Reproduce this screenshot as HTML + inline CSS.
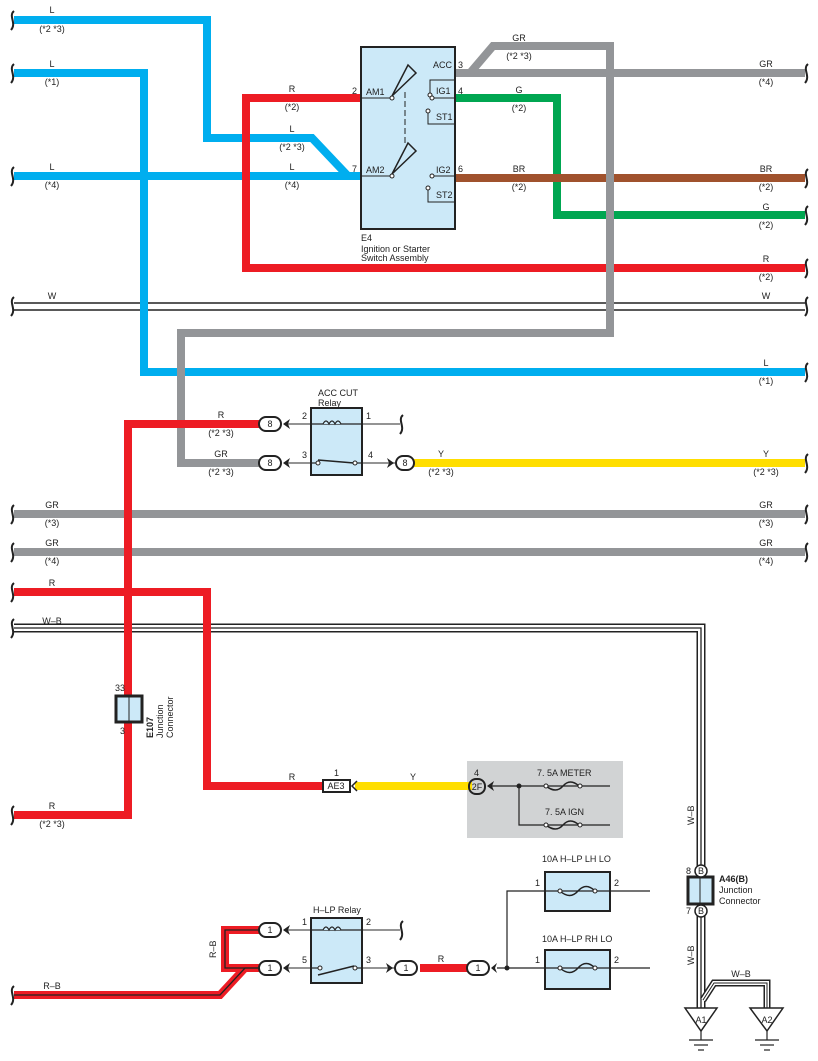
<!DOCTYPE html>
<html><head><meta charset="utf-8"><style>
html,body{margin:0;padding:0;background:#fff;}
svg{display:block;font-family:"Liberation Sans",sans-serif;}
text{font-size:9px;fill:#222;}
</style></head><body>
<svg width="818" height="1061" viewBox="0 0 818 1061" xmlns="http://www.w3.org/2000/svg">
<defs>
<path id="sq" d="M2,-9 C-4,-4 5,3 -1,10" fill="none" stroke="#222" stroke-width="2"/>
</defs>
<g fill="none" stroke-linejoin="miter">
<!-- W double line -->
<line x1="14" y1="303" x2="805" y2="303" stroke="#222" stroke-width="1.5"/>
<line x1="14" y1="310" x2="805" y2="310" stroke="#222" stroke-width="1.5"/>
<!-- blue -->
<polyline points="14,20 207,20 207,138 312,138 348,176" stroke="#00aeef" stroke-width="8"/>
<polyline points="14,73 144,73 144,372 805,372" stroke="#00aeef" stroke-width="8"/>
<line x1="14" y1="176" x2="361" y2="176" stroke="#00aeef" stroke-width="8"/>
<!-- red top -->
<polyline points="361,98 246,98 246,268 805,268" stroke="#ed1c24" stroke-width="8"/>
<!-- green -->
<polyline points="455,98 557,98 557,215 805,215" stroke="#00a651" stroke-width="8"/>
<!-- brown -->
<line x1="455" y1="178" x2="805" y2="178" stroke="#a0522d" stroke-width="8"/>
<!-- gray -->
<line x1="455" y1="73" x2="805" y2="73" stroke="#939598" stroke-width="8"/>
<polyline points="470,73 493,46 610,46 610,333 181,333 181,463 263,463" stroke="#939598" stroke-width="8"/>
<!-- gray full lines -->
<line x1="14" y1="514" x2="805" y2="514" stroke="#939598" stroke-width="8"/>
<line x1="14" y1="552" x2="805" y2="552" stroke="#939598" stroke-width="8"/>
<!-- W-B triple -->
<polyline points="14,628 701,628 701,866" stroke="#222" stroke-width="9"/>
<polyline points="14,628 701,628 701,866" stroke="#fff" stroke-width="6"/>
<polyline points="14,628 701,628 701,866" stroke="#222" stroke-width="1.3"/>
<polyline points="701,916 701,1010" stroke="#222" stroke-width="9"/>
<polyline points="701,916 701,1010" stroke="#fff" stroke-width="6"/>
<polyline points="701,916 701,1010" stroke="#222" stroke-width="1.3"/>
<polyline points="703,1000 714,983 767,983 767,1010" stroke="#222" stroke-width="7"/>
<polyline points="703,1000 714,983 767,983 767,1010" stroke="#fff" stroke-width="4"/>
<polyline points="703,1000 714,983 767,983 767,1010" stroke="#222" stroke-width="1"/>
<!-- ACC CUT area reds -->
<polyline points="263,424 128,424 128,815 14,815" stroke="#ed1c24" stroke-width="8"/>
<line x1="413" y1="463" x2="805" y2="463" stroke="#ffde00" stroke-width="8"/>
<polyline points="14,592 207,592 207,786 325,786" stroke="#ed1c24" stroke-width="8"/>
<line x1="355" y1="786" x2="472" y2="786" stroke="#ffde00" stroke-width="8"/>
<!-- R-B -->
<polyline points="14,995 220,995 245,968 225,968 225,930 262,930" stroke="#ed1c24" stroke-width="8"/>
<polyline points="262,968 225,968" stroke="#ed1c24" stroke-width="8"/>
<polyline points="14,995 220,995 245,968 262,968" stroke="#222" stroke-width="1.3"/>
<polyline points="262,968 225,968 225,930 262,930" stroke="#222" stroke-width="1.3"/>
<line x1="420" y1="968" x2="470" y2="968" stroke="#ed1c24" stroke-width="8"/>
</g>
<!-- squiggles -->
<g>
<use href="#sq" x="12" y="20"/><use href="#sq" x="12" y="73"/><use href="#sq" x="12" y="176"/>
<use href="#sq" x="12" y="306"/><use href="#sq" x="12" y="514"/><use href="#sq" x="12" y="552"/>
<use href="#sq" x="12" y="592"/><use href="#sq" x="12" y="628"/><use href="#sq" x="12" y="815"/>
<use href="#sq" x="12" y="995"/>
<use href="#sq" x="806" y="73"/><use href="#sq" x="806" y="178"/><use href="#sq" x="806" y="215"/>
<use href="#sq" x="806" y="268"/><use href="#sq" x="806" y="306"/><use href="#sq" x="806" y="372"/>
<use href="#sq" x="806" y="463"/><use href="#sq" x="806" y="514"/><use href="#sq" x="806" y="552"/>
<use href="#sq" x="401" y="424"/><use href="#sq" x="401" y="930"/>
</g>
<!-- E4 box -->
<rect x="361" y="47" width="94" height="182" fill="#cce9f8" stroke="#222" stroke-width="2"/>
<g stroke="#222" stroke-width="1" fill="none">
<line x1="361" y1="98" x2="390" y2="98"/><line x1="361" y1="176" x2="390" y2="176"/>
<polygon points="392,96 408,65 416,73" fill="#cce9f8" stroke-width="1.5"/>
<polygon points="392,174 408,143 416,151" fill="#cce9f8" stroke-width="1.5"/>
<line x1="405" y1="92" x2="405" y2="146" stroke-dasharray="6,3"/>
<polyline points="430,93 430,80 455,80"/><line x1="432" y1="98" x2="455" y2="98"/>
<polyline points="428,113 428,124 455,124"/>
<line x1="432" y1="176" x2="455" y2="176"/>
<polyline points="428,190 428,202 455,202"/>
</g>
<g fill="#fff" stroke="#222" stroke-width="1">
<circle cx="392" cy="98" r="2"/><circle cx="392" cy="176" r="2"/>
<circle cx="430" cy="95" r="2"/><circle cx="432" cy="98" r="2"/><circle cx="428" cy="111" r="2"/>
<circle cx="432" cy="176" r="2"/><circle cx="428" cy="188" r="2"/>
</g>
<text x="366" y="95">AM1</text><text x="366" y="173">AM2</text>
<text x="433" y="68">ACC</text><text x="436" y="94">IG1</text><text x="436" y="120">ST1</text>
<text x="436" y="173">IG2</text><text x="436" y="198">ST2</text>
<text x="352" y="94">2</text><text x="352" y="172">7</text>
<text x="458" y="68">3</text><text x="458" y="94">4</text><text x="458" y="172">6</text>
<text x="361" y="241">E4</text><text x="361" y="252">Ignition or Starter</text><text x="361" y="261">Switch Assembly</text>
<!-- wire labels -->
<g text-anchor="middle">
<text x="52" y="13">L</text><text x="52" y="32">(*2 *3)</text>
<text x="52" y="67">L</text><text x="52" y="85">(*1)</text>
<text x="52" y="170">L</text><text x="52" y="188">(*4)</text>
<text x="292" y="92">R</text><text x="292" y="110">(*2)</text>
<text x="292" y="132">L</text><text x="292" y="150">(*2 *3)</text>
<text x="292" y="170">L</text><text x="292" y="188">(*4)</text>
<text x="519" y="41">GR</text><text x="519" y="59">(*2 *3)</text>
<text x="519" y="93">G</text><text x="519" y="111">(*2)</text>
<text x="519" y="172">BR</text><text x="519" y="190">(*2)</text>
<text x="766" y="67">GR</text><text x="766" y="85">(*4)</text>
<text x="766" y="172">BR</text><text x="766" y="190">(*2)</text>
<text x="766" y="210">G</text><text x="766" y="228">(*2)</text>
<text x="766" y="262">R</text><text x="766" y="280">(*2)</text>
<text x="52" y="299">W</text><text x="766" y="299">W</text>
<text x="766" y="366">L</text><text x="766" y="384">(*1)</text>
<text x="221" y="418">R</text><text x="221" y="436">(*2 *3)</text>
<text x="221" y="457">GR</text><text x="221" y="475">(*2 *3)</text>
<text x="441" y="457">Y</text><text x="441" y="475">(*2 *3)</text>
<text x="766" y="457">Y</text><text x="766" y="475">(*2 *3)</text>
<text x="52" y="508">GR</text><text x="52" y="526">(*3)</text>
<text x="52" y="546">GR</text><text x="52" y="564">(*4)</text>
<text x="766" y="508">GR</text><text x="766" y="526">(*3)</text>
<text x="766" y="546">GR</text><text x="766" y="564">(*4)</text>
<text x="52" y="586">R</text><text x="52" y="624">W–B</text>
<text x="52" y="809">R</text><text x="52" y="827">(*2 *3)</text>
<text x="292" y="780">R</text><text x="413" y="780">Y</text>
<text x="52" y="989">R–B</text><text x="441" y="962">R</text>
<text x="741" y="977">W–B</text>
</g>
<text transform="translate(694,825) rotate(-90)">W–B</text>
<text transform="translate(694,965) rotate(-90)">W–B</text>
<text transform="translate(216,958) rotate(-90)">R–B</text>
<!-- ACC CUT relay -->
<text x="318" y="396">ACC CUT</text><text x="318" y="406">Relay</text>
<g stroke="#555" stroke-width="1.2"><line x1="285" y1="424" x2="400" y2="424"/><line x1="285" y1="463" x2="395" y2="463"/>
<line x1="285" y1="930" x2="400" y2="930"/><line x1="285" y1="968" x2="395" y2="968"/></g>
<rect x="311" y="408" width="51" height="67" fill="#cce9f8" stroke="#222" stroke-width="2"/>
<g stroke="#222" stroke-width="1.2" fill="none">
<line x1="311" y1="424" x2="362" y2="424" stroke="#222"/>
<path d="M323,424 q3,-6 6,0 q3,-6 6,0 q3,-6 6,0" fill="#cce9f8"/>
<line x1="311" y1="463" x2="318" y2="463"/><line x1="355" y1="463" x2="362" y2="463"/>
<line x1="318" y1="460" x2="354" y2="463" stroke-width="1.5"/>
</g>
<circle cx="318" cy="463" r="2" fill="#fff" stroke="#222"/><circle cx="355" cy="463" r="2" fill="#fff" stroke="#222"/>
<text x="302" y="419">2</text><text x="366" y="419">1</text><text x="302" y="458">3</text><text x="368" y="458">4</text>
<!-- connectors ovals -->
<g stroke="#222" stroke-width="2" fill="#fff">
<rect x="259" y="417" width="22" height="14" rx="7"/><rect x="259" y="456" width="22" height="14" rx="7"/>
<rect x="396" y="456" width="18" height="14" rx="7"/>
<rect x="259" y="923" width="22" height="14" rx="7"/><rect x="259" y="961" width="22" height="14" rx="7"/>
<rect x="395" y="961" width="22" height="14" rx="7"/><rect x="467" y="961" width="22" height="14" rx="7"/>
</g>
<g fill="#222">
<polygon points="283,424 290,419 288,424 290,429"/><polygon points="283,463 290,458 288,463 290,468"/>
<polygon points="394,463 387,458 389,463 387,468"/>
<polygon points="283,930 290,925 288,930 290,935"/><polygon points="283,968 290,963 288,968 290,973"/>
<polygon points="393,968 386,963 388,968 386,973"/><polygon points="491,968 497,963 495,968 497,973"/>
</g>
<g text-anchor="middle">
<text x="270" y="427">8</text><text x="270" y="466">8</text><text x="405" y="466">8</text>
<text x="270" y="933">1</text><text x="270" y="971">1</text><text x="406" y="971">1</text><text x="478" y="971">1</text>
</g>
<!-- E107 -->
<rect x="116" y="696" width="26" height="26" fill="#cce9f8" stroke="#222" stroke-width="3"/>
<line x1="129" y1="696" x2="129" y2="722" stroke="#222"/>
<text x="115" y="691">33</text><text x="120" y="734">3</text>
<text transform="translate(153,738) rotate(-90)" font-weight="bold">E107</text>
<text transform="translate(163,738) rotate(-90)">Junction</text>
<text transform="translate(173,738) rotate(-90)">Connector</text>
<!-- AE3 -->
<rect x="323" y="780" width="27" height="12" fill="#fff" stroke="#222" stroke-width="2"/>
<text x="336" y="789" text-anchor="middle">AE3</text><text x="334" y="776">1</text>
<polyline points="357,781 352,786 357,791 M361,781 356,786 361,791" fill="none" stroke="#222" stroke-width="1.5"/>
<!-- gray fuse box -->
<rect x="467" y="761" width="156" height="77" fill="#d1d3d4"/>
<g stroke="#ffde00" stroke-width="8"><line x1="466" y1="786" x2="472" y2="786"/></g>
<rect x="469" y="779" width="16" height="15" rx="7" fill="none" stroke="#222" stroke-width="2"/>
<text x="477" y="790" text-anchor="middle">2F</text><text x="474" y="776">4</text>
<polygon points="487,786 494,781 492,786 494,791" fill="#222"/>
<g stroke="#222" stroke-width="1.2" fill="none">
<polyline points="492,786 610,786"/><polyline points="519,786 519,825 610,825"/>
<path d="M546,786 q10,8 17,0 q7,-8 16,0" stroke-width="1.5"/>
<path d="M546,825 q10,8 17,0 q7,-8 16,0" stroke-width="1.5"/>
</g>
<circle cx="519" cy="786" r="2.5" fill="#222"/>
<g fill="#fff" stroke="#222"><circle cx="546" cy="786" r="2"/><circle cx="580" cy="786" r="2"/><circle cx="546" cy="825" r="2"/><circle cx="580" cy="825" r="2"/></g>
<text x="537" y="776">7. 5A METER</text><text x="545" y="815">7. 5A IGN</text>
<!-- H-LP relay -->
<text x="313" y="913">H–LP Relay</text>
<rect x="311" y="918" width="51" height="65" fill="#cce9f8" stroke="#222" stroke-width="2"/>
<g stroke="#222" stroke-width="1.2" fill="none">
<line x1="311" y1="930" x2="362" y2="930"/>
<path d="M323,930 q3,-6 6,0 q3,-6 6,0 q3,-6 6,0" fill="#cce9f8"/>
<line x1="311" y1="968" x2="320" y2="968"/><line x1="355" y1="968" x2="362" y2="968"/>
<line x1="318" y1="975" x2="354" y2="966" stroke-width="1.5"/>
</g>
<circle cx="320" cy="968" r="2" fill="#fff" stroke="#222"/><circle cx="355" cy="968" r="2" fill="#fff" stroke="#222"/>
<text x="302" y="925">1</text><text x="366" y="925">2</text><text x="302" y="963">5</text><text x="366" y="963">3</text>
<!-- H-LP fuses -->
<g stroke="#222" stroke-width="1.2" fill="none">
<polyline points="497,968 650,968"/><polyline points="507,968 507,891 650,891"/>
</g>
<circle cx="507" cy="968" r="2.5" fill="#222"/>
<rect x="545" y="872" width="65" height="39" fill="#cce9f8" stroke="#222" stroke-width="2"/>
<rect x="545" y="950" width="65" height="39" fill="#cce9f8" stroke="#222" stroke-width="2"/>
<g stroke="#222" stroke-width="1.2"><line x1="545" y1="891" x2="610" y2="891"/><line x1="545" y1="968" x2="610" y2="968"/></g>
<path d="M560,891 q10,9 18,0 q8,-9 17,0 M560,968 q10,9 18,0 q8,-9 17,0" stroke="#222" stroke-width="1.5" fill="none"/>
<g fill="#fff" stroke="#222"><circle cx="560" cy="891" r="2"/><circle cx="595" cy="891" r="2"/><circle cx="560" cy="968" r="2"/><circle cx="595" cy="968" r="2"/></g>
<text x="542" y="862">10A H–LP LH LO</text><text x="542" y="942">10A H–LP RH LO</text>
<text x="535" y="886">1</text><text x="614" y="886">2</text><text x="535" y="963">1</text><text x="614" y="963">2</text>
<!-- A46 -->
<rect x="688" y="877" width="25" height="27" fill="#cce9f8" stroke="#222" stroke-width="3"/>
<line x1="700" y1="877" x2="700" y2="904" stroke="#222"/>
<circle cx="701" cy="871" r="6" fill="#fff" stroke="#222" stroke-width="1.5"/>
<circle cx="701" cy="911" r="6" fill="#fff" stroke="#222" stroke-width="1.5"/>
<text x="701" y="874" text-anchor="middle" font-size="8">B</text><text x="701" y="914" text-anchor="middle" font-size="8">B</text>
<text x="686" y="874">8</text><text x="686" y="914">7</text>
<text x="719" y="882" font-weight="bold">A46(B)</text><text x="719" y="893">Junction</text><text x="719" y="904">Connector</text>
<!-- grounds -->
<g stroke="#222" stroke-width="1.5" fill="#fff">
<polygon points="685,1008 717,1008 701,1031"/><polygon points="750,1008 783,1008 767,1031"/>
</g>
<g stroke="#222" stroke-width="1.2">
<line x1="701" y1="1031" x2="701" y2="1040"/><line x1="689" y1="1040" x2="713" y2="1040"/><line x1="694" y1="1045" x2="708" y2="1045"/><line x1="698" y1="1050" x2="704" y2="1050"/>
<line x1="767" y1="1031" x2="767" y2="1040"/><line x1="755" y1="1040" x2="779" y2="1040"/><line x1="760" y1="1045" x2="774" y2="1045"/><line x1="764" y1="1050" x2="770" y2="1050"/>
</g>
<text x="701" y="1023" text-anchor="middle">A1</text><text x="767" y="1023" text-anchor="middle">A2</text>
</svg>
</body></html>
